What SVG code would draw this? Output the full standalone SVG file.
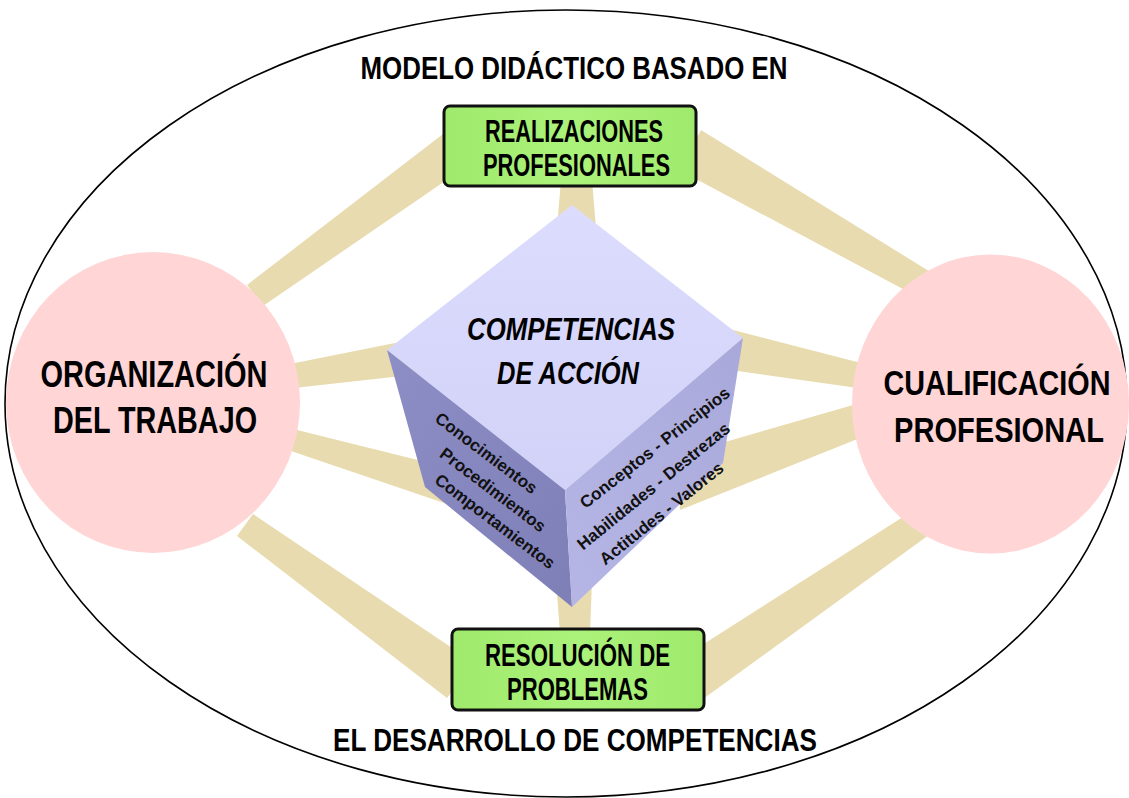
<svg xmlns="http://www.w3.org/2000/svg" width="1129" height="798" viewBox="0 0 1129 798">
<defs>
<style>
.band{fill:#E8DBAF;}
.circ{fill:#FFD5D6;}
.box{fill:url(#gbox);stroke:#111;stroke-width:3;}
.t{font-family:"Liberation Sans",Arial,sans-serif;font-weight:bold;fill:#000;text-anchor:middle;}
.face{font-family:"Liberation Sans",Arial,sans-serif;font-weight:bold;font-size:17px;fill:#111;text-anchor:middle;}
</style>
<linearGradient id="gbox" x1="0" y1="0" x2="1" y2="0">
<stop offset="0" stop-color="#9FEA6C"/>
<stop offset="0.5" stop-color="#ABF27A"/>
<stop offset="1" stop-color="#9FEA6C"/>
</linearGradient>
<linearGradient id="gtop" x1="0" y1="0" x2="0" y2="1">
<stop offset="0" stop-color="#DCDCFE"/>
<stop offset="1" stop-color="#D2D2F8"/>
</linearGradient>
<linearGradient id="gleft" x1="0" y1="0" x2="1" y2="1">
<stop offset="0" stop-color="#8E8EC6"/>
<stop offset="1" stop-color="#7F7FB8"/>
</linearGradient>
<linearGradient id="gright" x1="0" y1="1" x2="1" y2="0">
<stop offset="0" stop-color="#B6B6E6"/>
<stop offset="1" stop-color="#A8A8DA"/>
</linearGradient>
</defs>
<rect width="1129" height="798" fill="#fff"/>
<g id="frame">
<ellipse cx="566" cy="403.5" rx="561" ry="393.5" fill="none" stroke="#000" stroke-width="1.6"/>
<text class="t" x="574" y="79" font-size="32" textLength="427" lengthAdjust="spacingAndGlyphs">MODELO DIDÁCTICO BASADO EN</text>
<text class="t" x="575" y="751" font-size="32" textLength="484" lengthAdjust="spacingAndGlyphs">EL DESARROLLO DE COMPETENCIAS</text>
</g>
<g id="connectors">
<polygon class="band" points="247,285 443,134 467,166 263,306"/>
<polygon class="band" points="701,130 932,273 918,297 679,170"/>
<polygon class="band" points="561,180 592,180 597,240 556,240"/>
<polygon class="band" points="556,580 592,580 590,634 560,634"/>
<polygon class="band" points="253,514 473,662 447,698 237,536"/>
<polygon class="band" points="917,508 677,661 703,699 933,532"/>
<polygon class="band" points="285,365 420,338 420,374 285,389"/>
<polygon class="band" points="285,427 450,468 450,505 285,449"/>
<polygon class="band" points="710,324 865,364 865,389 710,367"/>
<polygon class="band" points="680,455 860,403 860,438 680,510"/>
</g>
<g id="organizacion">
<ellipse class="circ" cx="153" cy="402.5" rx="147" ry="150.5"/>
<text class="t" x="154" y="387" font-size="36" textLength="227" lengthAdjust="spacingAndGlyphs">ORGANIZACIÓN</text>
<text class="t" x="155" y="433" font-size="36" textLength="204" lengthAdjust="spacingAndGlyphs">DEL TRABAJO</text>
</g>
<g id="cualificacion">
<ellipse class="circ" cx="990.5" cy="404" rx="138.5" ry="149.5"/>
<text class="t" transform="translate(997,395) scale(1,1.17)" font-size="30" textLength="227" lengthAdjust="spacingAndGlyphs">CUALIFICACIÓN</text>
<text class="t" transform="translate(999,442) scale(1,1.13)" font-size="31" textLength="210" lengthAdjust="spacingAndGlyphs">PROFESIONAL</text>
</g>
<g id="realizaciones">
<rect class="box" x="444" y="106" width="252" height="80" rx="6"/>
<text class="t" x="574" y="142" font-size="32" textLength="178" lengthAdjust="spacingAndGlyphs">REALIZACIONES</text>
<text class="t" x="576.5" y="176" font-size="32" textLength="187" lengthAdjust="spacingAndGlyphs">PROFESIONALES</text>
</g>
<g id="resolucion">
<rect class="box" x="452" y="629" width="252" height="81" rx="6"/>
<text class="t" x="577.5" y="666" font-size="31" textLength="185" lengthAdjust="spacingAndGlyphs">RESOLUCIÓN DE</text>
<text class="t" x="577.5" y="700" font-size="31" textLength="141" lengthAdjust="spacingAndGlyphs">PROBLEMAS</text>
</g>
<g id="cubo">
<polygon points="572,205 743,338 565,490 387,350" fill="url(#gtop)"/>
<polygon points="387,350 565,490 572,607 425,487" fill="url(#gleft)"/>
<polygon points="565,490 743,338 723,463 572,607" fill="url(#gright)"/>
<text class="t" x="571" y="340" font-size="32" font-style="italic" textLength="208" lengthAdjust="spacingAndGlyphs">COMPETENCIAS</text>
<text class="t" x="568" y="384" font-size="32" font-style="italic" textLength="142" lengthAdjust="spacingAndGlyphs">DE ACCIÓN</text>
<text class="face" transform="translate(485.7,453.7) rotate(37)" y="5">Conocimientos</text>
<text class="face" transform="translate(492.5,490.5) rotate(37)" y="5">Procedimientos</text>
<text class="face" transform="translate(494.5,522) rotate(37)" y="5">Comportamientos</text>
<text class="face" transform="translate(655.3,448.3) rotate(-38)" y="5">Conceptos - Principios</text>
<text class="face" transform="translate(654,486.7) rotate(-39)" y="5">Habilidades - Destrezas</text>
<text class="face" transform="translate(662,514) rotate(-38.6)" y="5">Actitudes - Valores</text>
</g>
</svg>
